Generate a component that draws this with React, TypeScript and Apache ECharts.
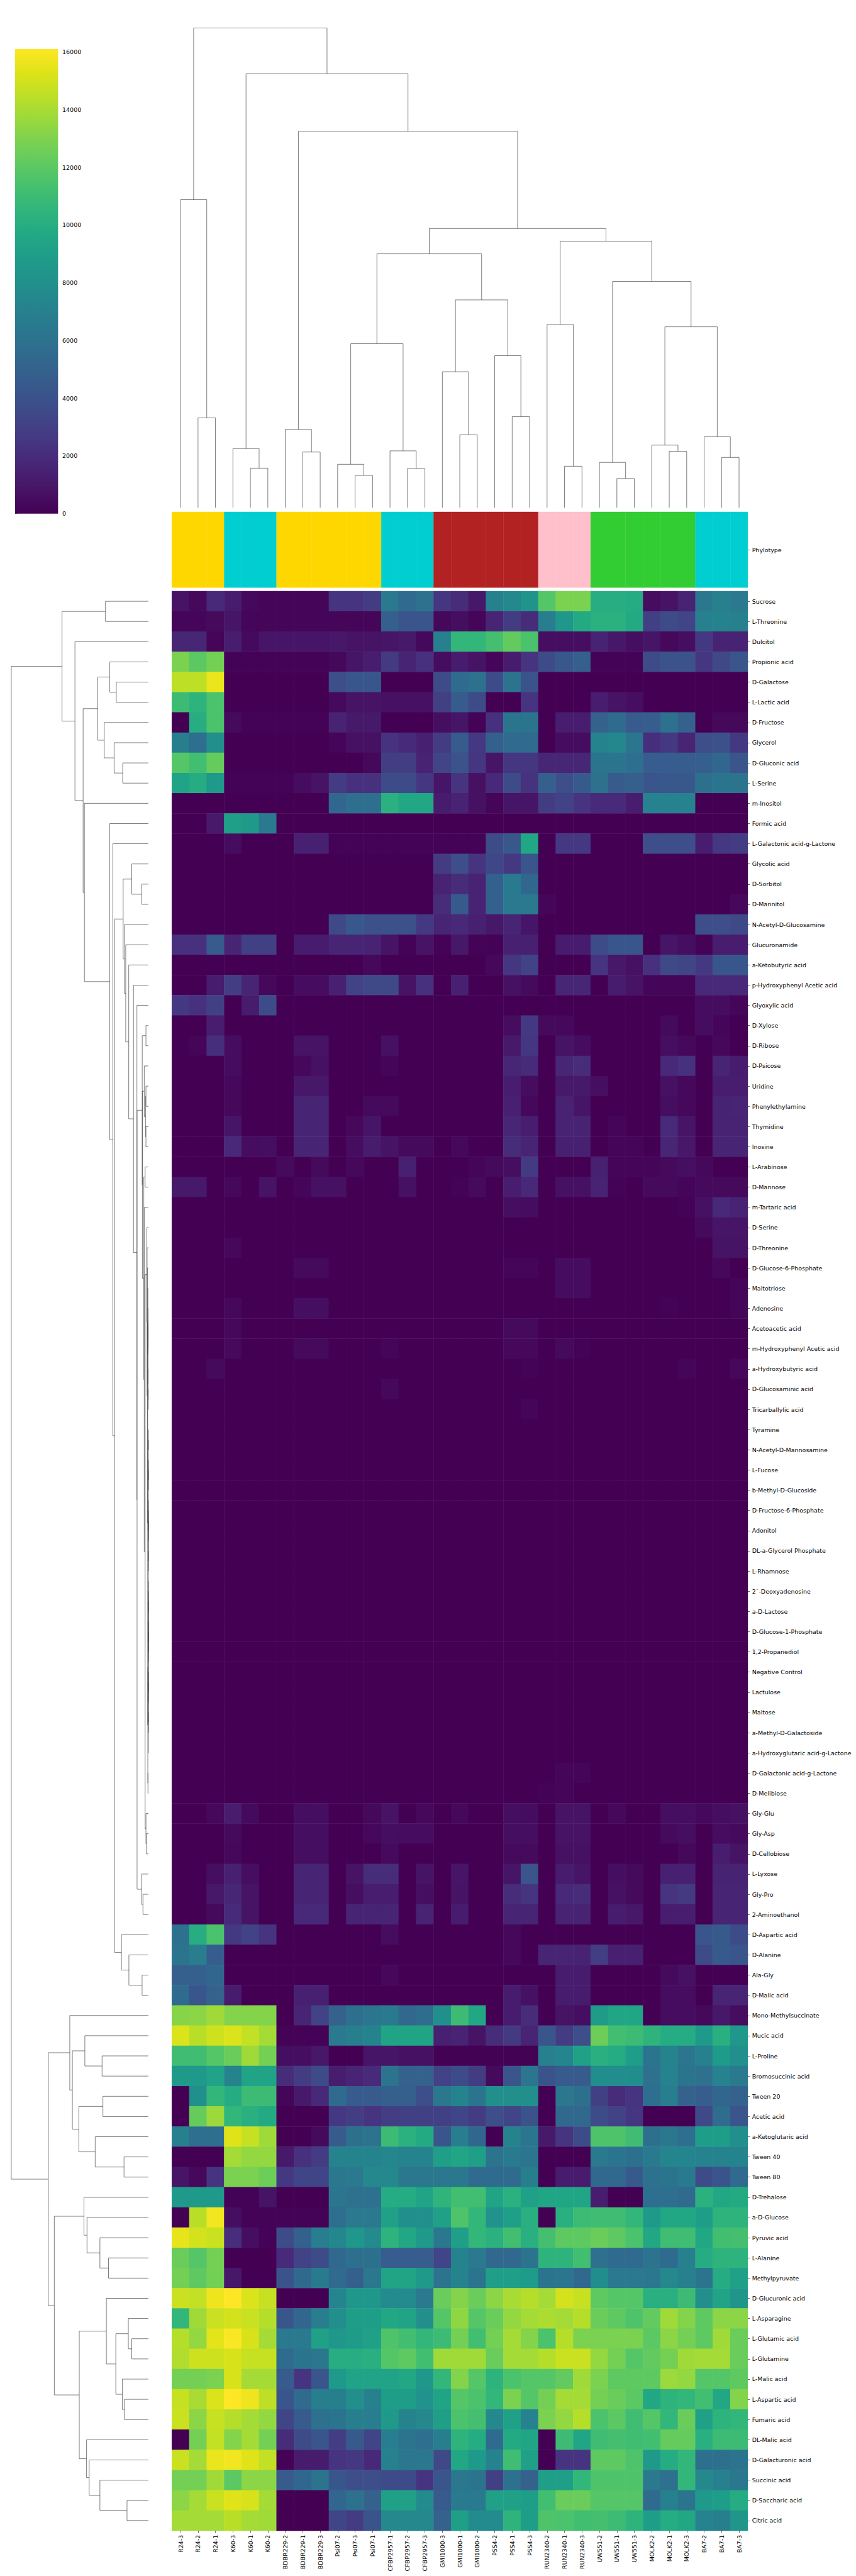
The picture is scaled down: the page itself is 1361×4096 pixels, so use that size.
import React, { useEffect, useRef } from 'react';
import * as echarts from 'echarts';

// ---------- scale: reference pixels -> page pixels ----------
const S = 1361 / 1990;
const L = (v: number) => v * S;
const FONT = 'DejaVu Sans';
const FS = 13.9 * S;

// ---------- labels ----------
const columnLabels = ['R24-3','R24-2','R24-1','K60-3','K60-1','K60-2','BDBR229-2','BDBR229-1','BDBR229-3','Psi07-2','Psi07-3','Psi07-1','CFBP2957-1','CFBP2957-2','CFBP2957-3','GMI1000-3','GMI1000-1','GMI1000-2','PSS4-2','PSS4-1','PSS4-3','RUN2340-2','RUN2340-1','RUN2340-3','UW551-2','UW551-1','UW551-3','MOLK2-2','MOLK2-1','MOLK2-3','BA7-2','BA7-1','BA7-3'];

const phylotypeColor = ['#FFD700','#FFD700','#FFD700','#00CED1','#00CED1','#00CED1','#FFD700','#FFD700','#FFD700','#FFD700','#FFD700','#FFD700','#00CED1','#00CED1','#00CED1','#B22222','#B22222','#B22222','#B22222','#B22222','#B22222','#FFC0CB','#FFC0CB','#FFC0CB','#32CD32','#32CD32','#32CD32','#32CD32','#32CD32','#32CD32','#00CED1','#00CED1','#00CED1'];

const rowLabels = ['Sucrose','L-Threonine','Dulcitol','Propionic acid','D-Galactose','L-Lactic acid','D-Fructose','Glycerol','D-Gluconic acid','L-Serine','m-Inositol','Formic acid','L-Galactonic acid-g-Lactone','Glycolic acid','D-Sorbitol','D-Mannitol','N-Acetyl-D-Glucosamine','Glucuronamide','a-Ketobutyric acid','p-Hydroxyphenyl Acetic acid','Glyoxylic acid','D-Xylose','D-Ribose','D-Psicose','Uridine','Phenylethylamine','Thymidine','Inosine','L-Arabinose','D-Mannose','m-Tartaric acid','D-Serine','D-Threonine','D-Glucose-6-Phosphate','Maltotriose','Adenosine','Acetoacetic acid','m-Hydroxyphenyl Acetic acid','a-Hydroxybutyric acid','D-Glucosaminic acid','Tricarballylic acid','Tyramine','N-Acetyl-D-Mannosamine','L-Fucose','b-Methyl-D-Glucoside','D-Fructose-6-Phosphate','Adonitol','DL-a-Glycerol Phosphate','L-Rhamnose','2`-Deoxyadenosine','a-D-Lactose','D-Glucose-1-Phosphate','1,2-Propanediol','Negative Control','Lactulose','Maltose','a-Methyl-D-Galactoside','a-Hydroxyglutaric acid-g-Lactone','D-Galactonic acid-g-Lactone','D-Melibiose','Gly-Glu','Gly-Asp','D-Cellobiose','L-Lyxose','Gly-Pro','2-Aminoethanol','D-Aspartic acid','D-Alanine','Ala-Gly','D-Malic acid','Mono-Methylsuccinate','Mucic acid','L-Proline','Bromosuccinic acid','Tween 20','Acetic acid','a-Ketoglutaric acid','Tween 40','Tween 80','D-Trehalose','a-D-Glucose','Pyruvic acid','L-Alanine','Methylpyruvate','D-Glucuronic acid','L-Asparagine','L-Glutamic acid','L-Glutamine','L-Malic acid','L-Aspartic acid','Fumaric acid','DL-Malic acid','D-Galacturonic acid','Succinic acid','D-Saccharic acid','Citric acid'];

// ---------- values (in thousands) ----------
const VALUE_UNIT = 1000;
const VMAX = 16100;
const colorbarTicks = [0, 2000, 4000, 6000, 8000, 10000, 12000, 14000, 16000];

const blockUpper = [
[0.8,0.3,1.8, 1.2,0.3,0.2, 0.2,0.2,0.2,2.4,2.4,2.8, 6.5,5.5,6.0, 2.5,2.0,1.0,7.0,7.5,8.2, 11.8,12.9,12.9, 10.0,10.0,9.9,0.5,0.8,1.5, 6.4,7.0,6.5],
[0.2,0.2,0.4, 0.9,0.2,0.2, 0.2,0.2,0.2,0.2,0.2,0.2, 4.8,4.2,4.2, 0.3,0.6,0.2,1.6,2.8,2.0, 6.8,8.5,9.8, 10.2,10.2,9.8,3.0,3.6,3.2, 7.0,7.2,7.0],
[1.7,1.7,0.2, 1.3,0.4,0.9, 0.9,0.9,0.9,1.0,0.8,0.8, 0.9,1.1,0.3, 7.0,10.6,10.6,11.3,12.2,11.5, 0.6,0.6,0.6, 1.5,1.0,0.6,0.9,0.3,0.6, 2.6,1.5,1.5],
[12.9,12.0,12.7, 0.1,0.1,0.1, 0.1,0.1,0.1,0.3,0.9,1.3, 2.7,1.6,2.2, 0.5,1.2,0.8,0.2,1.2,2.4, 3.6,4.4,4.8, 0.1,0.1,0.1,3.6,4.0,4.0, 2.5,3.5,4.2],
[14.5,14.5,15.6, 0,0,0, 0,0,0,3.8,4.3,4.3, 0,0,0, 3.6,5.6,6.0,3.6,6.1,4.1, 0,0,0, 0,0,0,0,0,0, 0,0,0],
[11.0,10.4,11.5, 0,0,0, 0,0,0,0.4,0.8,0.8, 0.7,0.7,0.7, 3.0,4.6,3.6,0,0,2.4, 0,0,0, 1.3,0.8,0.6,0,0,0, 0,0,0],
[0,10.0,11.5, 0.4,0.1,0.1, 0.1,0.1,0.1,1.5,1.1,1.1, 0,0,0, 0.6,0.9,0.1,2.2,6.2,6.2, 0,1.3,1.3, 5.0,5.6,4.6,4.7,6.0,5.0, 0,0.3,0.3],
[6.9,5.8,7.9, 0,0,0, 0,0,0,0.2,0.7,0.7, 2.3,1.9,1.4, 2.8,4.6,2.6,4.9,5.5,5.5, 0,0.5,0.5, 7.2,7.4,6.3,2.1,2.6,1.6, 3.8,3.9,2.6],
[11.8,11.2,12.3, 0,0,0, 0,0,0,0,0,0.3, 2.9,2.9,1.5, 3.2,4.0,2.5,0.9,2.5,2.5, 1.7,1.7,1.7, 6.2,6.2,5.8,4.7,4.7,4.7, 4.8,5.3,4.2],
[9.3,9.9,8.6, 0.1,0.1,0.1, 0.1,0.5,0.8,2.8,2.2,2.2, 3.6,3.6,2.5, 0.9,2.4,0.7,1.8,3.6,2.3, 4.8,3.8,4.5, 6.0,4.6,4.8,4.2,4.4,4.4, 5.9,6.2,6.1],
[0,0,0, 0,0,0, 0,0,0,5.3,5.8,5.8, 10.2,9.6,9.6, 1.2,1.5,0.7,0.2,0.9,0.9, 2.8,3.1,2.4, 1.9,1.9,1.3,7.1,7.1,7.1, 0,0,0],
[0,0,1.1, 9.0,8.7,6.5, 0,0,0,0,0,0, 0,0,0, 0,0,0,0,0,0, 0,0,0, 0,0,0,0,0,0, 0,0,0],
[0,0,0, 0.5,0,0, 0,1.4,1.4,0.1,0.1,0.1, 0.1,0.1,0.1, 0.1,0.1,0.1,3.6,4.4,9.6, 0,2.6,2.6, 0,0,0,3.8,3.8,3.8, 1.3,2.6,2.8],
[0,0,0, 0,0,0, 0,0,0,0,0,0, 0,0,0, 2.8,3.8,2.4,3.4,2.6,4.2, 0,0,0, 0,0,0,0,0,0, 0,0,0],
[0,0,0, 0,0,0, 0,0,0,0,0,0, 0,0,0, 1.5,2.0,1.5,4.9,6.6,5.3, 0,0,0, 0,0,0,0,0,0, 0,0,0],
[0,0,0, 0,0,0, 0,0,0,0,0,0, 0,0,0, 2.0,4.5,1.5,4.9,6.5,6.5, 0.2,0,0, 0,0,0,0,0,0, 0,0,0.3],
[0,0,0, 0,0,0, 0,0,0,3.5,4.4,3.9, 3.9,3.9,2.6, 1.6,1.8,1.4,1.0,1.6,0.9, 0,0,0, 0,0,0,0,0,0, 3.8,3.8,3.5],
[2.2,2.2,4.6, 1.6,3.0,3.0, 0,1.2,1.2,1.6,1.6,1.5, 0.8,0.1,0.8, 0.1,1.0,0.1,0.1,1.4,1.4, 0,1.2,1.2, 3.6,4.3,4.3,0,0.9,0.6, 0.1,1.3,1.3],
[0,0,0, 0,0,0, 0,0,0,0,0,0.3, 0,0,0, 0,0,0,0.3,2.5,3.1, 0,0,0, 2.4,1.0,0.7,2.2,3.5,3.3, 2.6,4.3,4.3],
[0,0,1.2, 2.9,1.6,0.3, 0,0.5,0.5,1.4,3.1,3.5, 3.5,0.8,2.2, 0,1.4,0,0,0.7,0.4, 0,1.7,1.7, 0,1.2,0.8,0.2,0.2,0.2, 1.8,1.8,1.8],
[2.6,2.2,3.0, 0,1.2,3.7, 0,0,0,0,0,0, 0,0,0, 0,0,0,0,0,0, 0,0,0, 0,0,0,0,0,0, 0.5,0.5,0.2],
];

const blockMiddle = [
[0,0,1.3, 0,0,0, 0,0,0,0,0,0, 0,0,0, 0,0,0,0,0.5,2.6, 0.4,0.3,0, 0,0,0,0,0.4,0, 0.5,0.2,0],
[0,0.2,2.1, 0.5,0,0, 0,0.8,0.8,0,0,0, 0.7,0,0, 0,0,0,0,1.1,2.5, 0,0.8,0.5, 0,0,0,0,0.6,0.3, 0,0.3,0],
[0,0,0, 0.5,0,0, 0,0.3,0.7,0,0,0, 0.2,0,0, 0,0,0,0,1.7,1.9, 0,1.7,2.0, 0,0,0,0,1.8,2.2, 0,1.6,1.2],
[0,0,0, 0.3,0,0, 0,1.0,1.0,0,0,0, 0,0,0, 0,0,0,0,1.3,0.5, 0,1.1,1.1, 0.6,0,0,0,0.7,0.3, 0,1.3,1.3],
[0,0,0, 0.3,0,0, 0,1.6,1.6,0,0,0.4, 0.4,0,0, 0,0,0,0,1.4,0.3, 0,1.5,0.9, 0,0,0,0,0.6,0.3, 0,1.5,1.6],
[0,0,0, 0.9,0,0, 0,1.6,1.6,0,0.3,0.9, 0,0,0, 0,0,0,0,1.7,1.3, 0,1.5,1.5, 0,0.2,0,0,1.9,0.9, 0,1.5,1.5],
[0,0,0, 1.8,0.5,0.6, 0,1.6,1.6,0,0.5,1.2, 0.8,0.4,0.4, 0,0.3,0,0,2.0,1.6, 0,1.4,1.4, 0,0.2,0.2,0,1.7,1.0, 0,1.6,1.6],
[0,0,0, 0,0,0, 0.4,0,0.4,0,0.3,0, 0,1.4,0, 0,0,0.2,0.4,0.6,2.7, 0,0,0, 1.4,0.2,0.2,0.2,0.4,0.6, 0.3,0,0],
[1.1,1.1,0, 0.3,0,0.8, 0,0.2,0.7,0.7,0,0, 0,0.7,0, 0,0.1,0.4,0,1.3,1.8, 0,0.7,0.7, 1.5,0.1,0,0.4,0.4,0.2, 0.4,0.4,0.4],
[0,0,0, 0,0,0, 0,0,0,0,0,0, 0,0,0, 0,0,0,0,0.6,0.5, 0,0,0, 0,0,0,0,0,0.1, 0.7,1.8,1.5],
[0,0,0, 0,0,0, 0,0,0,0,0,0, 0,0,0, 0,0,0,0,0,0, 0,0,0, 0,0,0,0,0,0, 0.4,0.9,0.9],
[0,0,0, 0.3,0,0, 0,0,0,0,0,0, 0,0,0, 0,0,0,0,0,0, 0,0,0, 0,0,0,0,0,0, 0,0.8,0.8],
[0,0,0, 0,0,0, 0,0.4,0.4,0,0,0, 0,0,0, 0,0,0,0,0.2,0.2, 0,0.5,0.5, 0,0,0,0,0,0, 0,0.3,0],
[0,0,0, 0,0,0, 0,0,0,0,0,0, 0,0,0, 0,0,0,0,0,0, 0,0.5,0.5, 0,0,0,0,0,0, 0,0,0.2],
[0,0,0, 0.3,0,0, 0,0.6,0.6,0,0,0, 0,0,0, 0,0,0,0,0,0, 0,0,0, 0,0,0,0,0.1,0, 0,0,0.2],
[0,0,0, 0.3,0,0, 0,0,0,0,0,0, 0,0,0, 0,0,0,0,0.4,0.4, 0,0,0, 0,0,0,0,0,0, 0,0,0],
[0,0,0, 0.4,0,0, 0,0.4,0.4,0,0,0, 0.2,0,0, 0,0,0,0,0.3,0.3, 0,0.4,0.1, 0,0,0,0,0,0, 0,0,0],
[0,0,0.4, 0,0,0, 0,0,0,0,0,0, 0,0,0, 0,0,0,0,0,0.1, 0,0,0, 0,0,0,0,0,0.2, 0,0,0.3],
[0,0,0, 0,0,0, 0,0,0,0,0,0, 0.3,0,0, 0,0,0,0,0,0, 0,0,0, 0,0,0,0,0,0, 0,0,0],
[0,0,0, 0,0,0, 0,0,0,0,0,0, 0,0,0, 0,0,0,0,0,0.2, 0,0,0, 0,0,0,0,0,0, 0,0,0],
[0,0,0, 0,0,0, 0,0,0,0,0,0, 0,0,0, 0,0,0,0,0,0, 0,0,0, 0,0,0,0,0,0, 0,0,0],
[0,0,0, 0,0,0, 0,0,0,0,0,0, 0,0,0, 0,0,0,0,0,0, 0,0,0, 0,0,0,0,0,0, 0,0,0],
[0,0,0, 0,0,0, 0,0,0,0,0,0, 0,0,0, 0,0,0,0,0,0, 0,0,0, 0,0,0,0,0,0, 0,0,0],
[0,0,0, 0,0,0, 0,0,0,0,0,0, 0,0,0, 0,0,0,0,0,0, 0,0,0, 0,0,0,0,0,0, 0,0,0],
[0,0,0, 0,0,0, 0,0,0,0,0,0, 0,0,0, 0,0,0,0,0,0, 0,0,0, 0,0,0,0,0,0, 0,0,0],
[0,0,0, 0,0,0, 0,0,0,0,0,0, 0,0,0, 0,0,0,0,0,0, 0,0,0, 0,0,0,0,0,0, 0,0,0],
[0,0,0, 0,0,0, 0,0,0,0,0,0, 0,0,0, 0,0,0,0,0,0, 0,0,0, 0,0,0,0,0,0, 0,0,0],
[0,0,0, 0,0,0, 0,0,0,0,0,0, 0,0,0, 0,0,0,0,0,0, 0,0,0, 0,0,0,0,0,0, 0,0,0],
[0,0,0, 0,0,0, 0,0,0,0,0,0, 0,0,0, 0,0,0,0,0,0, 0,0,0, 0,0,0,0,0,0, 0,0,0],
[0,0,0, 0,0,0, 0,0,0,0,0,0, 0,0,0, 0,0,0,0,0,0, 0,0,0, 0,0,0,0,0,0, 0,0,0],
[0,0,0, 0,0,0, 0,0,0,0,0,0, 0,0,0, 0,0,0,0,0,0, 0,0,0, 0,0,0,0,0,0, 0,0,0],
[0,0,0, 0,0,0, 0,0,0,0,0,0, 0,0,0, 0,0,0,0,0,0, 0,0,0, 0,0,0,0,0,0, 0,0,0],
[0,0,0, 0,0,0, 0,0,0,0,0,0, 0,0,0, 0,0,0,0,0,0, 0,0,0, 0,0,0,0,0,0, 0,0,0],
[0,0,0, 0,0,0, 0,0,0,0,0,0, 0,0,0, 0,0,0,0,0,0, 0,0,0, 0,0,0,0,0,0, 0,0,0],
[0,0,0, 0,0,0, 0,0,0,0,0,0, 0,0,0, 0,0,0,0,0,0, 0,0,0, 0,0,0,0,0,0, 0,0,0],
[0,0,0, 0,0,0, 0,0,0,0,0,0, 0,0,0, 0,0,0,0,0,0, 0,0,0, 0,0,0,0,0,0, 0,0,0],
[0,0,0, 0,0,0, 0,0,0,0,0,0, 0,0,0, 0,0,0,0,0,0, 0,0,0, 0,0,0,0,0,0, 0,0,0],
[0,0,0, 0,0,0, 0,0,0,0,0,0, 0,0,0, 0,0,0,0,0,0, 0,0.2,0.2, 0,0,0,0,0,0, 0,0,0],
[0,0,0, 0,0,0, 0,0,0,0,0,0, 0,0,0, 0,0,0,0,0,0, 0.1,0.2,0, 0,0,0,0,0,0, 0,0,0],
[0,0,0.3, 1.3,0.4,0, 0,0.6,0.6,0,0,0.3, 0.8,0,0.3, 0,0.3,0,0,0.6,0.5, 0,0.8,0.8, 0,0.3,0,0,0.6,0.6, 0.3,0.6,0.7],
[0,0,0, 0.4,0,0, 0,0.6,0.6,0,0,0.3, 0.6,0.5,0.5, 0,0,0,0,0.6,0.6, 0,0.8,0.8, 0,0,0,0,0.4,0.6, 0,0.5,0.4],
[0,0,0, 0.3,0,0, 0,0.6,0.6,0,0,0, 0.4,0,0, 0,0,0,0,0.4,0.4, 0,0.7,0.7, 0,0,0,0,0,0.3, 0,1.3,0.8],
[0,0,0.6, 1.4,0.6,0, 0,1.6,1.6,0,0.8,2.0, 2.0,0,0.8, 0,0.9,0,0,0.9,4.2, 0,1.2,0.9, 0,0.6,0.4,0,1.4,1.4, 0,1.5,1.5],
[0,0,1.0, 1.7,0.8,0, 0,1.6,1.6,0,0.6,1.3, 1.3,0,0.6, 0,0.8,0,0,2.0,2.4, 0,1.8,2.0, 0,0.7,0.4,0,2.4,2.7, 0,1.6,1.6],
[0,0,0.4, 1.9,0.8,0, 0,1.8,1.8,0,1.6,1.6, 1.6,0,1.5, 0,1.2,0,0,1.6,1.6, 0,1.5,1.5, 0,1.2,1.0,0,1.3,1.3, 0,1.6,1.6],
[6.0,10.0,11.5, 2.6,3.1,2.4, 0,0,0,0,0,0, 0.5,0,0, 0,0,0,0,0.3,0, 0,0,0, 0,0,0,0,0,0, 4.2,4.5,3.7],
[6.2,6.8,4.7, 0,0,0, 0,0,0,0,0,0, 0,0,0, 0,0,0,0,0.3,0, 1.6,1.6,1.5, 2.9,1.4,1.4,0,0,0, 3.6,4.5,4.2],
[4.8,4.8,5.3, 0,0,0, 0,0,0,0,0,0, 0.3,0,0, 0,0,0,0,0,0, 0,1.2,1.2, 0,0,0,0,0.4,0.7, 0,0,0],
[5.6,4.3,5.0, 1.2,0,0, 0,1.4,1.4,0,0,0, 0,0,0, 0,0,0,0,1.2,0.7, 0,1.2,1.2, 0,0,0,0,0.5,0.5, 0,1.6,1.6],
];

const blockLower = [
[13.2,13.3,13.8, 13.1,13.1,13.1, 0,1.6,3.1,5.0,5.9,6.3, 6.6,5.4,5.7, 8.0,11.0,9.6,0,1.2,2.0, 0,0.8,0.6, 8.8,9.5,9.5,0,0.5,0.5, 0.3,1.0,0.5],
[15.2,14.4,14.9, 15.2,14.6,13.9, 0.1,0.1,0.1,6.5,6.9,7.2, 9.4,9.4,9.4, 1.4,1.5,0.8,2.0,2.7,1.6, 4.2,2.8,3.8, 12.5,11.2,11.0,10.4,9.9,9.9, 8.7,10.1,8.5],
[11.1,11.1,11.8, 12.4,13.8,12.7, 0.6,0.6,1.0,0,0,0.9, 0.9,0.7,0.7, 0.05,0.05,0.05,0.05,0.05,0.05, 7.0,7.3,9.2, 10.1,9.9,8.9,6.2,7.2,6.3, 7.0,8.8,8.0],
[8.6,8.6,9.3, 7.2,9.4,9.4, 2.0,2.8,3.6,1.3,1.6,1.9, 6.1,5.0,5.0, 3.1,3.7,2.8,0.4,4.2,6.3, 4.1,4.6,4.6, 7.8,7.8,7.8,6.0,7.1,6.2, 6.0,7.1,6.6],
[0,8.0,10.6, 9.9,11.0,11.0, 0.2,1.1,1.8,5.6,4.6,4.6, 4.8,4.8,3.8, 6.4,7.2,6.2,7.9,7.9,7.9, 0,6.4,5.9, 3.0,2.0,2.4,5.8,6.8,5.0, 4.7,5.3,5.0],
[0,12.3,13.7, 10.6,10.1,9.8, 0,0,0,2.6,2.9,2.4, 2.9,3.0,3.0, 3.0,3.3,2.8,3.8,3.2,4.1, 0,5.4,5.4, 3.6,3.1,2.5,0,0,0, 3.5,5.7,4.2],
[7.0,5.8,5.8, 15.3,14.7,13.8, 0,0,0.4,4.6,5.9,6.1, 11.0,10.2,9.8, 4.2,6.8,5.3,0,7.2,6.3, 1.1,2.4,3.7, 11.6,11.6,11.1,5.9,6.4,5.8, 8.9,8.9,8.0],
[0,0,0, 13.9,13.5,13.5, 1.1,2.2,2.8,7.2,7.2,7.2, 7.4,7.2,7.2, 9.0,9.5,9.0,6.1,6.6,6.3, 0,0,0, 6.5,6.2,5.9,6.6,7.3,7.3, 7.1,7.2,7.2],
[0.9,0.3,2.4, 12.9,12.9,12.5, 2.6,3.3,3.3,6.4,6.5,7.5, 7.5,6.4,6.4, 6.4,6.4,5.6,5.6,5.6,6.9, 0,1.2,1.2, 5.4,5.4,4.5,6.0,6.2,6.6, 3.7,4.1,5.5],
[8.6,8.6,8.6, 0.1,0.1,0.8, 0,0,0,6.3,6.0,6.0, 9.9,9.9,9.3, 10.5,11.2,11.2,9.4,10.2,9.1, 9.5,9.5,9.5, 1.3,0,0,5.8,5.8,5.5, 10.2,9.6,9.8],
[0,14.4,15.8, 0.6,0.1,0.1, 0.1,0.1,0.1,5.8,6.5,6.5, 9.1,8.0,8.0, 9.1,11.6,10.6,8.1,9.0,10.1, 0,10.1,11.0, 11.1,11.1,10.6,8.7,9.6,9.6, 8.9,10.4,10.4],
[15.5,15.0,14.8, 2.1,0.6,0.1, 3.6,4.9,6.8,7.4,8.5,7.6, 10.4,9.6,8.6, 6.4,9.0,10.6,10.2,11.2,10.1, 11.3,12.1,12.1, 12.4,12.1,11.5,9.6,11.1,11.1, 9.6,11.2,11.3],
[12.4,11.8,12.7, 0,0,0, 1.9,3.1,3.7,5.4,5.9,5.9, 4.7,4.7,4.7, 3.3,7.2,6.5,5.4,5.4,6.1, 10.4,10.4,11.2, 6.0,5.6,5.6,6.1,5.6,7.0, 9.9,10.4,10.4],
[12.7,12.1,12.7, 1.0,0,0, 4.1,5.4,6.6,5.5,4.9,6.4, 9.4,9.4,8.6, 6.1,7.2,6.2,9.0,9.0,8.8, 6.2,6.3,5.4, 7.8,6.5,6.5,6.4,7.5,7.0, 6.2,9.9,9.2],
[14.8,14.6,15.7, 16.1,15.2,14.7, 0,0,0,7.3,8.5,8.5, 7.6,7.6,6.5, 12.4,13.1,12.4,13.3,14.0,14.3, 13.9,15.0,14.7, 12.1,11.8,11.8,10.1,10.1,11.0, 7.9,9.4,8.4],
[10.6,13.8,14.8, 15.0,14.8,14.3, 4.3,5.3,6.8,7.9,8.9,8.9, 9.6,9.4,7.9, 11.8,13.4,11.8,12.4,13.5,13.9, 14.1,13.9,14.3, 12.4,12.1,11.6,12.2,13.8,13.1, 12.1,13.3,13.3],
[14.3,13.5,15.4, 16.0,15.1,13.9, 6.5,6.5,9.2,8.5,8.8,9.2, 11.6,11.2,10.6, 11.0,12.7,11.2,12.7,13.9,13.1, 11.5,14.3,12.9, 12.9,12.9,12.9,12.0,13.3,12.7, 12.1,13.8,12.4],
[14.2,14.9,14.9, 15.1,14.7,14.7, 5.6,6.2,6.4,10.0,10.0,10.1, 11.8,12.1,11.2, 13.8,13.8,13.8,12.4,13.9,13.9, 14.3,14.8,14.8, 13.5,12.7,11.8,12.2,12.7,13.8, 13.9,13.9,12.4],
[12.7,12.7,12.9, 15.1,13.9,13.9, 4.6,2.4,4.2,8.6,9.3,9.3, 9.3,9.6,8.5, 10.6,13.1,11.8,10.4,11.5,11.8, 11.8,12.2,13.8, 12.9,12.1,12.1,12.1,13.7,13.5, 11.8,11.8,12.1],
[14.7,14.0,15.2, 16.1,15.7,14.5, 4.3,5.5,6.9,6.9,7.9,7.0, 8.9,8.9,8.1, 9.4,11.8,11.5,10.6,12.9,11.8, 12.7,13.9,13.9, 12.7,12.4,12.0,9.6,10.4,10.6, 11.2,9.6,13.1],
[14.8,13.3,14.7, 14.3,13.9,13.5, 3.3,4.6,6.0,6.2,6.9,6.8, 8.6,7.2,7.5, 9.0,11.5,11.3,7.5,9.2,7.1, 12.9,13.5,14.3, 11.5,12.0,11.1,11.8,10.6,12.4, 9.2,10.4,10.6],
[0,12.7,14.6, 13.1,13.9,12.7, 2.0,3.6,4.2,2.9,4.5,3.2, 6.8,6.1,5.8, 6.9,10.4,9.9,5.6,9.8,9.5, 0,11.0,9.5, 11.1,11.3,11.1,11.2,12.3,12.3, 10.1,11.0,11.0],
[14.8,13.9,15.6, 15.8,15.3,14.6, 0.1,1.2,1.2,2.4,2.6,1.8, 7.0,6.4,6.4, 3.5,9.6,8.7,7.2,11.1,9.2, 0,2.4,2.4, 12.1,12.1,11.6,8.6,9.9,10.6, 5.9,5.9,6.1],
[12.7,12.7,13.8, 12.0,13.3,13.3, 4.6,5.3,6.2,4.3,3.8,3.8, 3.7,3.7,2.4, 4.2,6.4,6.1,3.0,6.0,5.0, 9.0,9.0,10.6, 11.6,11.6,11.6,6.5,6.0,10.6, 7.5,7.0,6.4],
[13.3,13.9,14.8, 15.3,15.1,13.9, 0,0,0,5.3,6.0,5.0, 9.2,9.2,7.6, 4.6,6.6,6.6,9.2,9.2,8.9, 11.2,12.4,12.4, 11.8,11.8,11.8,5.6,7.0,6.2, 8.7,8.9,9.9],
[13.9,13.9,13.9, 14.4,13.9,13.8, 0,0,0,3.3,2.8,4.1, 7.5,7.5,7.5, 5.0,9.0,7.6,7.6,10.4,8.9, 11.6,11.5,11.2, 11.3,11.0,10.4,8.9,9.9,9.6, 7.1,6.9,8.4],
];

// ---------- dendrograms: [name, childA, childB, height]; number = leaf index ----------
const colMerges: [string, number | string, number | string, number][] = [
['c1',1,2,234],['c2',0,'c1',802],['c3',4,5,103],['c4',3,'c3',154],['c5',7,8,145],['c6',6,'c5',204],
['c7',10,11,84],['c8',9,'c7',113],['c9',13,14,102],['c10',12,'c9',148],['c11','c8','c10',427],
['c12',16,17,190],['c13',15,'c12',354],['c14',19,20,237],['c15',18,'c14',396],['c16','c13','c15',541],
['c17','c11','c16',661],['c18',22,23,108],['c19',21,'c18',477],['c20',25,26,76],['c21',24,'c20',118],
['c22',28,29,147],['c23',27,'c22',163],['c24',31,32,131],['c25',30,'c24',185],['c26','c23','c25',471],
['c27','c21','c26',589],['c28','c19','c27',694],['c29','c17','c28',727],['c30','c6','c29',980],
['c31','c4','c30',1130],['c32','c2','c31',1249],
];

const rowMerges: [string, number | string, number | string, number][] = [
['a',0,1,299],['b',4,5,224],['c',3,'b',269],['d',8,9,179],['e',7,'d',239],['f',6,'e',308],['g','c','f',353],
['h',14,15,47],['i',13,'h',116],
['t1',21,22,17],['t2',24,25,17],['t3',26,27,17],['t4','t2','t3',20],['t5',23,'t4',29],['t6',28,29,23],
['z1',41,42,0],['z2',43,44,0],['z3',45,46,0],['z4',47,48,0],['z5',49,50,0],['z6',51,52,0],['z7',53,54,0],['z8',55,56,0],
['z9','z1','z2',0],['z10','z3','z4',0],['z11','z5','z6',0],['z12','z7','z8',0],['z13','z9','z10',0],['z14','z11','z12',0],
['z15','z13','z14',0],['z16','z15',57,0.3],['z17',58,59,3],['z18','z16','z17',4],
['x1',39,40,1],['x2',38,'x1',2],['x3',36,37,2],['x4',35,'x3',2.5],['x5','x4','x2',3],['x6',34,'x5',3.5],
['x7','x6','z18',5],['u1',33,'x7',7],['u2',32,'u1',9],['u3',31,'u2',11],
['v1',61,62,14],['v2',60,'v1',17],['v3','u3','v2',23],['v4',30,'v3',29],['v5','t6','v4',32],
['v6','t5','v5',42],['v7','t1','v6',43],
['w1',64,65,38],['w2',63,'w1',47],['w3','v7','w2',79],
['B20',20,'w3',80],['B19',19,'B20',104],['B18',18,'B19',137],['B17',17,'B18',158],['B16',16,'B17',167],
['A','i','B16',176],['k1',68,69,44],['k2',67,'k1',136],['k3',66,'k2',188],
['X7','A','k3',236],['X6',12,'X7',248],['X5',11,'X6',269],['X4',10,'X5',446],['X3','g','X4',455],
['X2',2,'X3',512],['U','a','X2',602],
['l1',72,73,323],['l2',71,'l1',443],['l3',74,75,317],['l4',77,78,170],['l5',76,'l4',371],['l6','l3','l5',485],
['l7','l2','l6',530],['l8',70,'l7',548],
['m1',82,83,278],['m2',81,'m1',338],['m3',80,'m2',428],['m4',79,'m3',449],
['n1',86,87,116],['n2',85,'n1',140],['n3',89,90,167],['n4',88,'n3',182],['n5','n2','n4',227],['n6',84,'n5',293],
['p1',94,95,149],['p2',93,'p1',338],['p3',92,'p2',413],['p4',91,'p3',431],['n7','n6','p4',482],
['L2','m4','n7',656],['Lw','l8','L2',698],['root','U','Lw',956],
];

const viridis = ['#440154','#471365','#482475','#463480','#414487','#3b528b','#355f8d','#2f6c8e','#2a788e','#25848e','#21918c','#1e9c89','#22a884','#2fb47c','#44bf70','#5ec962','#7ad151','#9bd93c','#bddf26','#dfe318','#fde725'];

function segments(merges: [string, number | string, number | string, number][]) {
  const pos: Record<string, number> = {};
  const hgt: Record<string, number> = {};
  const P = (c: number | string) => (typeof c === 'number' ? c + 0.5 : pos[c]);
  const Hh = (c: number | string) => (typeof c === 'number' ? 0 : hgt[c]);
  return merges.map(([name, a, b, h]) => {
    const pa = P(a), pb = P(b);
    pos[name] = (pa + pb) / 2;
    hgt[name] = h;
    return [pa, pb, Hh(a), Hh(b), h];
  });
}

function dendroRenderer(horizontal: boolean) {
  return (_params: any, api: any) => {
    const pa = api.value(0), pb = api.value(1), ha = api.value(2), hb = api.value(3), h = api.value(4);
    const pt = (p: number, hh: number) => (horizontal ? api.coord([hh, p]) : api.coord([p, hh]));
    return {
      type: 'polyline',
      silent: true,
      shape: { points: [pt(pa, ha), pt(pa, h), pt(pb, h), pt(pb, hb)] },
      style: { stroke: '#333333', lineWidth: 0.65, fill: 'none' },
    };
  };
}

function buildOption() {
  const allRows = [...blockUpper, ...blockMiddle, ...blockLower];
  const heatData: number[][] = [];
  allRows.forEach((row, r) => row.forEach((v, c) => heatData.push([c, r, v * VALUE_UNIT])));

  const colSeg = segments(colMerges);
  const rowSeg = segments(rowMerges);
  const colMax = Math.max(...colMerges.map((m) => m[3])) * 1.05;
  const rowMax = Math.max(...rowMerges.map((m) => m[3])) * 1.05;

  const heatLeft = L(399.5), heatRight = L(1738.4), heatTop = L(1374.5), heatBottom = L(5883.6);
  const heatW = heatRight - heatLeft, heatH = heatBottom - heatTop;

  const tick = { show: true, length: 4.9 * S, lineStyle: { color: '#000', width: 0.6 } };
  const labelBase = { color: '#000', fontFamily: FONT, fontSize: FS };

  return {
    animation: false,
    backgroundColor: '#ffffff',
    grid: [
      { left: heatLeft, top: heatTop, width: heatW, height: heatH },
      { left: heatLeft, top: L(1190.2), width: heatW, height: L(1366.1 - 1190.2) },
      { left: heatLeft, top: L(9.3), width: heatW, height: L(1180.4 - 9.3) },
      { left: L(10.2), top: heatTop, width: L(345 - 10.2), height: heatH },
      { left: L(35), top: L(114.1), width: L(100), height: L(1194.1 - 114.1) },
    ],
    xAxis: [
      {
        gridIndex: 0, type: 'category', data: columnLabels, position: 'bottom',
        axisLine: { show: false }, axisTick: { ...tick, alignWithLabel: true },
        axisLabel: { ...labelBase, rotate: 90, interval: 0, margin: 9.8 * S },
        splitLine: { show: false },
      },
      { gridIndex: 1, type: 'category', data: columnLabels, show: false },
      { gridIndex: 2, type: 'value', min: 0, max: columnLabels.length, show: false },
      { gridIndex: 3, type: 'value', min: 0, max: rowMax, inverse: true, show: false },
      { gridIndex: 4, type: 'value', min: 0, max: 1, show: false },
    ],
    yAxis: [
      {
        gridIndex: 0, type: 'category', data: rowLabels, inverse: true, position: 'right',
        axisLine: { show: false }, axisTick: { ...tick, alignWithLabel: true },
        axisLabel: { ...labelBase, interval: 0, margin: 9.8 * S },
        splitLine: { show: false },
      },
      {
        gridIndex: 1, type: 'category', data: ['Phylotype'], position: 'right',
        axisLine: { show: false }, axisTick: { ...tick, alignWithLabel: true },
        axisLabel: { ...labelBase, margin: 9.8 * S },
      },
      { gridIndex: 2, type: 'value', min: 0, max: colMax, show: false },
      { gridIndex: 3, type: 'value', min: 0, max: rowLabels.length, inverse: true, show: false },
      {
        gridIndex: 4, type: 'value', min: 0, max: VMAX, position: 'right',
        axisLine: { show: false }, splitLine: { show: false },
        axisTick: { ...tick, customValues: colorbarTicks },
        axisLabel: {
          ...labelBase, margin: 9.8 * S, customValues: colorbarTicks,
          formatter: (v: number) => String(Math.round(v)),
        },
      },
    ],
    visualMap: {
      type: 'continuous', show: false, min: 0, max: VMAX, dimension: 2, seriesIndex: 0,
      inRange: { color: viridis },
    },
    series: [
      {
        type: 'heatmap', xAxisIndex: 0, yAxisIndex: 0, data: heatData,
        progressive: 0, emphasis: { disabled: true }, itemStyle: { borderWidth: 0 },
      },
      {
        type: 'custom', xAxisIndex: 1, yAxisIndex: 1, silent: true,
        data: columnLabels.map((_, i) => [i, 0]),
        encode: { x: 0, y: 1 },
        renderItem: (params: any, api: any) => {
          const c = api.coord([api.value(0), api.value(1)]);
          const sz = api.size([1, 1]);
          const color = phylotypeColor[params.dataIndex];
          return {
            type: 'rect',
            shape: { x: c[0] - sz[0] / 2, y: c[1] - sz[1] / 2, width: sz[0], height: sz[1] },
            style: { fill: color, stroke: color, lineWidth: 0.4 },
          };
        },
      },
      {
        type: 'custom', xAxisIndex: 2, yAxisIndex: 2, silent: true, clip: false,
        data: colSeg, encode: { x: [0, 1], y: [2, 3, 4] },
        renderItem: dendroRenderer(false),
      },
      {
        type: 'custom', xAxisIndex: 3, yAxisIndex: 3, silent: true, clip: false,
        data: rowSeg, encode: { x: [2, 3, 4], y: [0, 1] },
        renderItem: dendroRenderer(true),
      },
      {
        type: 'custom', xAxisIndex: 4, yAxisIndex: 4, silent: true,
        data: [[0, 0, 1, VMAX]], encode: { x: [0, 2], y: [1, 3] },
        renderItem: (_p: any, api: any) => {
          const p0 = api.coord([api.value(0), api.value(1)]);
          const p1 = api.coord([api.value(2), api.value(3)]);
          return {
            type: 'rect',
            shape: { x: p0[0], y: p1[1], width: p1[0] - p0[0], height: p0[1] - p1[1] },
            style: {
              fill: new echarts.graphic.LinearGradient(0, 1, 0, 0,
                viridis.map((c, i) => ({ offset: i / (viridis.length - 1), color: c }))),
            },
          };
        },
      },
    ],
  };
}

export default function App() {
  const ref = useRef<HTMLDivElement>(null);
  useEffect(() => {
    const chart = echarts.init(ref.current as HTMLDivElement, null, { renderer: 'svg' });
    chart.setOption(buildOption() as any);
    return () => chart.dispose();
  }, []);
  return (
    <div
      ref={ref}
      style={{ position: 'absolute', left: 0, top: 0, width: 1361, height: 4096, background: '#fff' }}
    />
  );
}
